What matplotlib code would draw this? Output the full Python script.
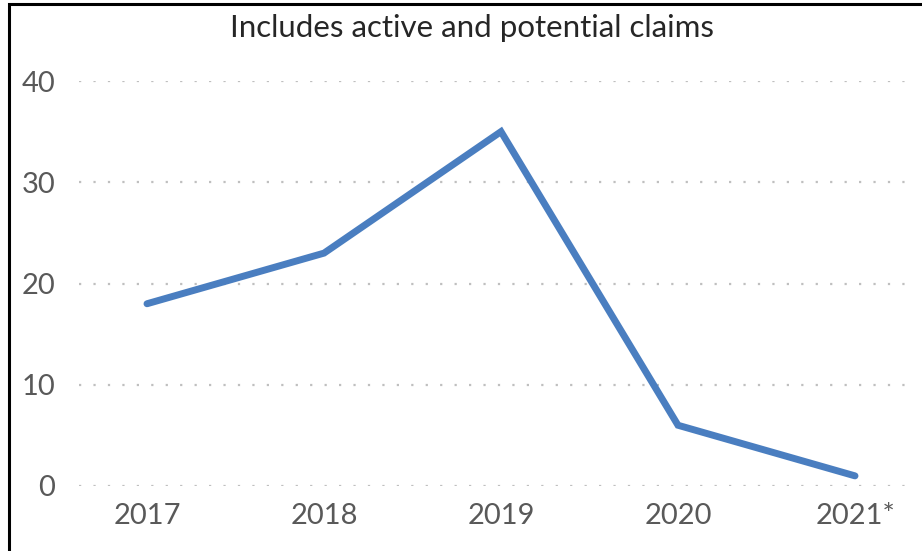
import matplotlib
matplotlib.use("Agg")
import matplotlib.pyplot as plt
from matplotlib.patches import Rectangle

years = ["2017", "2018", "2019", "2020", "2021*"]
claims = [18, 23, 35, 6, 1]
yticks = [0, 10, 20, 30, 40]
title = "Includes active and potential claims"

plt.rcParams['font.family'] = ['Lato', 'DejaVu Sans']

W, H = 922, 551
fig = plt.figure(figsize=(W / 100, H / 100), dpi=100)
ax = fig.add_axes([79 / W, 1 - 486 / H, (912 - 79) / W, (486 - 81) / H])

x = list(range(len(years)))
ax.plot(x, claims, color='#4a7ec0', lw=5, solid_capstyle='round', solid_joinstyle='miter', zorder=3)

ax.set_ylim(0, 40)
ax.set_xlim((79 - 147) / 177, (912 - 147) / 177)
ax.set_yticks(yticks)
ax.set_xticks(x)
ax.set_xticklabels(years)
ax.tick_params(axis='both', length=0, labelsize=21, colors='#595959')
ax.tick_params(axis='y', pad=17)
ax.tick_params(axis='x', pad=12)
for s in ax.spines.values():
    s.set_visible(False)
ax.grid(axis='y', color='#bfbfbf', linestyle=(0, (1, 5.5)), linewidth=1.6)
ax.set_axisbelow(True)

fig.text(472 / W, 1 - 28 / H, title, ha='center', va='center', fontsize=22.5, color='#262626')

# outer frame (left and top edges visible)
fig.patches.append(Rectangle((8.5 / W, -0.1), 1.2, 1 - 3.5 / H + 0.1, transform=fig.transFigure,
                             fill=False, edgecolor='black', lw=2.2))

fig.savefig("out.png", dpi=100)
